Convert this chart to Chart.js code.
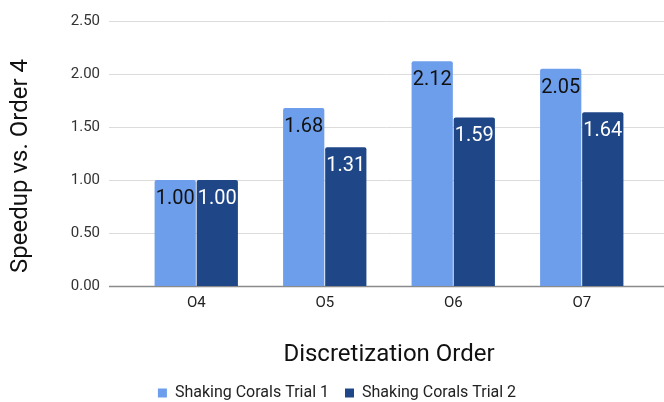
<!DOCTYPE html>
<html>
<head>
<meta charset="utf-8">
<script src="https://cdn.jsdelivr.net/npm/chart.js@4/dist/chart.umd.min.js"></script>
<style>
  html, body { margin: 0; padding: 0; background: #fff; }
  #wrap { width: 664px; height: 402px; }
</style>
</head>
<body>
<div id="wrap"><canvas id="c" width="664" height="402"></canvas></div>
<script>
// Speedup of each discretization order relative to order 4
const categories = ['O4', 'O5', 'O6', 'O7'];
const trial1 = [1.00, 1.68, 2.12, 2.05];
const trial2 = [1.00, 1.31, 1.59, 1.64];
const seriesNames = ['Shaking Corals Trial 1', 'Shaking Corals Trial 2'];
const yTicks = [0, 0.5, 1, 1.5, 2, 2.5];
const yTitle = 'Speedup vs. Order 4';
const xTitle = 'Discretization Order';

const LIGHT = '#6d9eeb';
const DARK = '#1f4788';
const FONT = 'Roboto, "Noto Sans", sans-serif';

// Horizontal grid lines run past the plot area on both sides
const wideGrid = {
  id: 'wideGrid',
  beforeDatasetsDraw(chart) {
    const { ctx } = chart;
    const y = chart.scales.y;
    const x0 = 109, x1 = chart.width;
    ctx.save();
    yTicks.forEach(v => {
      const py = Math.round(y.getPixelForValue(v)) + 0.5;
      ctx.beginPath();
      ctx.moveTo(x0, py);
      ctx.lineTo(x1, py);
      if (v === 0) {
        ctx.strokeStyle = '#8a8a8a';
        ctx.lineWidth = 1.5;
      } else {
        ctx.strokeStyle = '#dcdcdc';
        ctx.lineWidth = 1;
      }
      ctx.stroke();
    });
    ctx.restore();
  }
};

// Value labels printed just inside the top of each bar
const barValues = {
  id: 'barValues',
  afterDatasetsDraw(chart) {
    const { ctx } = chart;
    ctx.save();
    ctx.font = '20px ' + FONT;
    ctx.textAlign = 'center';
    ctx.textBaseline = 'alphabetic';
    chart.data.datasets.forEach((ds, di) => {
      const meta = chart.getDatasetMeta(di);
      ctx.fillStyle = di === 0 ? '#111' : '#fff';
      meta.data.forEach((bar, i) => {
        ctx.fillText(ds.data[i].toFixed(2), bar.x, bar.y + 24);
      });
    });
    ctx.restore();
  }
};

// Rotated y-axis title, sitting a little below the middle of the axis
const yAxisTitle = {
  id: 'yAxisTitle',
  afterDraw(chart) {
    const { ctx } = chart;
    ctx.save();
    ctx.translate(21, 166);
    ctx.rotate(-Math.PI / 2);
    ctx.font = '24px ' + FONT;
    ctx.fillStyle = '#111';
    ctx.textAlign = 'center';
    ctx.textBaseline = 'middle';
    ctx.fillText(yTitle, 0, 0);
    ctx.restore();
  }
};

// Nudge the legend a bit to the right of the canvas centre
const legendShift = {
  id: 'legendShift',
  afterLayout(chart) {
    if (chart.legend) {
      chart.legend.left += 14;
      chart.legend.right += 14;
    }
  }
};

new Chart(document.getElementById('c'), {
  type: 'bar',
  data: {
    labels: categories,
    datasets: [
      { label: seriesNames[0], data: trial1, backgroundColor: LIGHT },
      { label: seriesNames[1], data: trial2, backgroundColor: DARK }
    ]
  },
  options: {
    responsive: false,
    animation: false,
    devicePixelRatio: 1,
    layout: { padding: { top: 21, right: 18, left: 0, bottom: -9 } },
    datasets: {
      bar: {
        categoryPercentage: 0.655,
        barPercentage: 0.98,
        borderRadius: { topLeft: 2, topRight: 2 },
        borderSkipped: 'bottom'
      }
    },
    scales: {
      x: {
        grid: { display: false, drawTicks: false },
        border: { display: false },
        ticks: { color: '#222', font: { family: FONT, size: 15 }, padding: 8 },
        title: {
          display: true,
          text: xTitle,
          color: '#111',
          font: { family: FONT, size: 24, lineHeight: 1 },
          padding: { top: 0, bottom: 2 }
        },
        afterFit(scale) { scale.height = 83; }
      },
      y: {
        min: 0,
        max: 2.5,
        afterBuildTicks(scale) { scale.ticks = yTicks.map(v => ({ value: v })); },
        grid: { display: false, drawTicks: false },
        border: { display: false },
        ticks: {
          color: '#333',
          font: { family: FONT, size: 15 },
          padding: 32,
          callback: v => Number(v).toFixed(2)
        },
        afterFit(scale) {
          scale.width = 132;
          scale.paddingTop = 0;
          scale.paddingBottom = 0;
        }
      }
    },
    plugins: {
      legend: {
        position: 'bottom',
        labels: {
          color: '#222',
          font: { family: FONT, size: 16 },
          boxWidth: 9,
          boxHeight: 9,
          padding: 16
        }
      },
      tooltip: { enabled: false }
    }
  },
  plugins: [wideGrid, barValues, yAxisTitle, legendShift]
});
</script>
</body>
</html>
